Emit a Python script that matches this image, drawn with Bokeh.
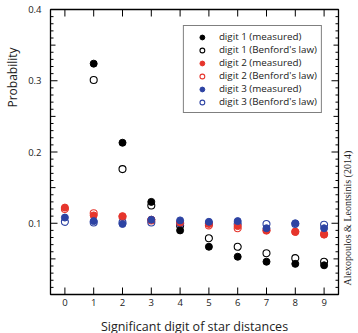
import math
from bokeh.plotting import figure
from bokeh.models import (Range1d, FixedTicker, Legend, LegendItem, Label)
from bokeh.layouts import row
from bokeh.embed import file_html
from bokeh.resources import INLINE

# ---- data ----
digits = [0, 1, 2, 3, 4, 5, 6, 7, 8, 9]
digits19 = [1, 2, 3, 4, 5, 6, 7, 8, 9]

d1_measured = [0.324, 0.213, 0.130, 0.090, 0.067, 0.053, 0.046, 0.043, 0.041]
d1_benford = [0.301, 0.176, 0.125, 0.097, 0.079, 0.067, 0.058, 0.051, 0.046]
d2_measured = [0.122, 0.111, 0.110, 0.105, 0.101, 0.099, 0.096, 0.090, 0.088, 0.084]
d2_benford = [0.120, 0.114, 0.109, 0.104, 0.100, 0.097, 0.093, 0.090, 0.088, 0.085]
d3_measured = [0.108, 0.103, 0.099, 0.105, 0.104, 0.102, 0.103, 0.093, 0.100, 0.093]
d3_benford = [0.102, 0.101, 0.101, 0.101, 0.100, 0.100, 0.099, 0.099, 0.099, 0.098]

x_ticks = [0, 1, 2, 3, 4, 5, 6, 7, 8, 9]
y_ticks = [0.0, 0.1, 0.2, 0.3, 0.4]
y_labels = {0.0: "", 0.1: "0.1", 0.2: "0.2", 0.3: "0.3", 0.4: "0.4"}
y_mid_ticks = [0.05, 0.15, 0.25, 0.35]
y_minor = [i / 100 for i in range(1, 40) if i % 5 != 0]

y_title = "Probability"
x_title = "Significant digit of star distances"
citation = "Alexopoulos & Leontsinis (2014)"

FONT = "Open Sans"
RED = "#e6352c"
BLUE = "#2d43a3"
TXT = "#222222"

x_range = Range1d(-0.5, 9.5)
y_range = Range1d(0, 0.4)

# ---- main plot ----
p = figure(frame_width=288, frame_height=285, output_backend="svg", toolbar_location=None,
           x_range=x_range, y_range=y_range,
           min_border_left=28, min_border_right=4, min_border_top=9, min_border_bottom=39)
p.background_fill_color = "white"
p.outline_line_color = "black"
p.outline_line_width = 1.3
p.xgrid.visible = False
p.ygrid.visible = False

for ax in (p.xaxis[0], p.yaxis[0]):
    ax.axis_line_color = None
    ax.major_tick_line_color = None
    ax.minor_tick_line_color = None
    ax.major_tick_in = 0
    ax.major_tick_out = 0
    ax.minor_tick_in = 0
    ax.minor_tick_out = 0
    ax.major_label_text_font = FONT
    ax.major_label_text_font_size = "9.5px"
    ax.major_label_text_color = TXT

xa = p.xaxis[0]
xa.ticker = FixedTicker(ticks=x_ticks)
xa.major_label_standoff = 4
xa.axis_label = x_title
xa.axis_label_text_font = FONT
xa.axis_label_text_font_style = "normal"
xa.axis_label_text_font_size = "12.5px"
xa.axis_label_text_color = TXT
xa.axis_label_standoff = 9

ya = p.yaxis[0]
ya.ticker = FixedTicker(ticks=y_ticks)
ya.major_label_standoff = 9
ya.major_label_overrides = y_labels

# inward tick marks on all four sides (half of each dash is clipped by the frame)
TK = dict(marker="dash", line_color="black", line_width=1, fill_color=None)
n_x = len(x_ticks)
p.scatter(x_ticks, [y_range.start] * n_x, angle=math.pi / 2, size=14, **TK)
p.scatter(x_ticks, [y_range.end] * n_x, angle=math.pi / 2, size=14, **TK)
for xe in (x_range.start, x_range.end):
    p.scatter([xe] * len(y_ticks), y_ticks, size=14, **TK)
    p.scatter([xe] * len(y_mid_ticks), y_mid_ticks, size=10, **TK)
    p.scatter([xe] * len(y_minor), y_minor, size=6, **TK)

S = 7
r1b = p.scatter(digits19, d1_benford, size=S, marker="circle", fill_color=None, line_color="black", line_width=1.1)
r2b = p.scatter(digits, d2_benford, size=S, marker="circle", fill_color=None, line_color=RED, line_width=1.1)
r3b = p.scatter(digits, d3_benford, size=S, marker="circle", fill_color=None, line_color=BLUE, line_width=1.1)
r1m = p.scatter(digits19, d1_measured, size=S, marker="circle", fill_color="black", line_color="black")
r2m = p.scatter(digits, d2_measured, size=S, marker="circle", fill_color=RED, line_color=RED)
r3m = p.scatter(digits, d3_measured, size=S, marker="circle", fill_color=BLUE, line_color=BLUE)

legend = Legend(items=[
    LegendItem(label="digit 1 (measured)", renderers=[r1m]),
    LegendItem(label="digit 1 (Benford's law)", renderers=[r1b]),
    LegendItem(label="digit 2 (measured)", renderers=[r2m]),
    LegendItem(label="digit 2 (Benford's law)", renderers=[r2b]),
    LegendItem(label="digit 3 (measured)", renderers=[r3m]),
    LegendItem(label="digit 3 (Benford's law)", renderers=[r3b]),
], location="top_right")
legend.margin = 16
legend.padding = 4
legend.spacing = 0
legend.glyph_width = 28
legend.glyph_height = 12
legend.label_height = 12
legend.label_standoff = 3
legend.label_text_font = FONT
legend.label_text_font_size = "9.8px"
legend.label_text_color = TXT
legend.border_line_color = "black"
legend.border_line_width = 1
legend.background_fill_alpha = 1
p.add_layout(legend)

# ---- left strip with the y title ----
left = figure(width=22, height=333, output_backend="svg", toolbar_location=None,
              x_range=Range1d(0, 1), y_range=Range1d(0, 1), min_border=0)
left.axis.visible = False
left.grid.visible = False
left.outline_line_color = None
left.add_layout(Label(x=12, y=213, x_units="screen", y_units="screen", text=y_title,
                      angle=math.pi / 2, text_align="center", text_baseline="middle",
                      text_font=FONT, text_font_size="12px", text_color=TXT))

# ---- right strip with the citation ----
right = figure(width=14, height=333, output_backend="svg", toolbar_location=None,
               x_range=Range1d(0, 1), y_range=Range1d(0, 1), min_border=0)
right.axis.visible = False
right.grid.visible = False
right.outline_line_color = None
right.add_layout(Label(x=5, y=5, x_units="screen", y_units="screen", text=citation,
                       angle=math.pi / 2, text_align="left", text_baseline="middle",
                       text_font="Liberation Serif", text_font_size="10px", text_color=TXT))

layout = row(left, p, right)
open("out.html", "w").write(file_html(layout, INLINE))
